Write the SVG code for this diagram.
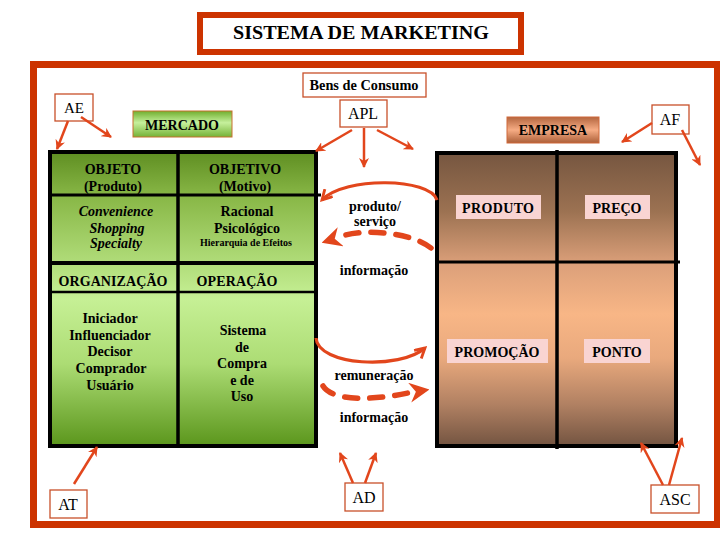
<svg xmlns="http://www.w3.org/2000/svg" width="720" height="540" viewBox="0 0 720 540">
<style>
text{font-family:"Liberation Serif","Times New Roman",serif;fill:#000;text-anchor:middle}
.b{font-weight:bold;font-size:14px}
.lab{font-size:16px}
.box{fill:#fff;stroke:#C8502A;stroke-width:1.3}
.pink{fill:#F9D4D2}
.arr{stroke:#E2461C;stroke-width:2.5;fill:none}
.arc{stroke:#E2461C;stroke-width:3.2;fill:none}
.dash{stroke:#E2461C;stroke-width:5.5;fill:none;stroke-dasharray:13 12;stroke-linecap:round}
.grid{fill:none;stroke:#000;stroke-width:4}
.ln{stroke:#000;stroke-width:3}
</style>
<defs>
<linearGradient id="gGreen" x1="0" y1="0" x2="0" y2="1">
<stop offset="0" stop-color="#5F8E22"/>
<stop offset="0.15" stop-color="#88B746"/>
<stop offset="0.5" stop-color="#C6F095"/>
<stop offset="0.72" stop-color="#ACDC74"/>
<stop offset="1" stop-color="#5B961C"/>
</linearGradient>
<linearGradient id="gBrown" x1="0" y1="0" x2="0" y2="1">
<stop offset="0" stop-color="#765640"/>
<stop offset="0.2" stop-color="#9C7252"/>
<stop offset="0.38" stop-color="#DCA07A"/>
<stop offset="0.55" stop-color="#F8B686"/>
<stop offset="0.7" stop-color="#E9A97D"/>
<stop offset="0.86" stop-color="#B08062"/>
<stop offset="1" stop-color="#735441"/>
</linearGradient>
<linearGradient id="gMerc" x1="0" y1="0" x2="0" y2="1">
<stop offset="0" stop-color="#6FAE2E"/>
<stop offset="0.45" stop-color="#C6F09C"/>
<stop offset="1" stop-color="#74B236"/>
</linearGradient>
<linearGradient id="gEmp" x1="0" y1="0" x2="0" y2="1">
<stop offset="0" stop-color="#B4663F"/>
<stop offset="0.5" stop-color="#F6AC84"/>
<stop offset="1" stop-color="#AC5F38"/>
</linearGradient>
<marker id="ah" viewBox="0 0 10 10" refX="9" refY="5" markerWidth="10" markerHeight="10" markerUnits="userSpaceOnUse" orient="auto">
<path d="M0,0 L10,5 L0,10 L3,5 z" fill="#E2461C"/>
</marker>
<marker id="chev" viewBox="0 0 12 12" refX="10" refY="6" markerWidth="13" markerHeight="13" markerUnits="userSpaceOnUse" orient="auto">
<path d="M1,1 L10,6 L1,11" fill="none" stroke="#E2461C" stroke-width="2.6"/>
</marker>
<marker id="big" viewBox="0 0 16 16" refX="14" refY="8" markerWidth="20" markerHeight="20" markerUnits="userSpaceOnUse" orient="auto">
<path d="M0,0 L16,8 L0,16 L5,8 z" fill="#E2461C"/>
</marker>
</defs>

<rect width="720" height="540" fill="#fff"/>

<g id="title">
<rect x="200" y="15" width="321" height="37" fill="#fff" stroke="#CC3300" stroke-width="6"/>
<text x="361" y="39" style="font-size:19.5px;font-weight:bold" textLength="256" lengthAdjust="spacingAndGlyphs">SISTEMA DE MARKETING</text>
</g>

<g id="frame">
<rect x="33.5" y="64.5" width="684" height="460" fill="none" stroke="#CC3300" stroke-width="7"/>
</g>

<g id="bens">
<rect class="box" x="303" y="73" width="123" height="24"/>
<text x="364" y="90" style="font-size:14px;font-weight:bold" textLength="109" lengthAdjust="spacingAndGlyphs">Bens de Consumo</text>
</g>

<g id="apl">
<rect class="box" x="340" y="100" width="47" height="27"/>
<text class="lab" x="363" y="119">APL</text>
</g>

<g id="ae">
<rect class="box" x="55" y="94" width="38" height="27"/>
<text x="74" y="113" style="font-size:15px">AE</text>
</g>

<g id="af">
<rect class="box" x="652" y="105" width="37" height="29"/>
<text class="lab" x="670" y="125">AF</text>
</g>

<g id="at">
<rect class="box" x="50" y="490" width="37" height="28"/>
<text class="lab" x="68" y="510">AT</text>
</g>

<g id="ad">
<rect class="box" x="345" y="483" width="38" height="28"/>
<text class="lab" x="364" y="503">AD</text>
</g>

<g id="asc">
<rect class="box" x="651" y="485" width="48" height="28"/>
<text class="lab" x="675" y="505">ASC</text>
</g>

<g id="mercado">
<rect x="133" y="111" width="99" height="26" fill="url(#gMerc)" stroke="#C8702E" stroke-width="1"/>
<text class="b" x="182" y="130">MERCADO</text>
</g>

<g id="empresa">
<rect x="507" y="117" width="92" height="26" fill="url(#gEmp)" stroke="#D0683A" stroke-width="1"/>
<text class="b" x="553" y="135">EMPRESA</text>
</g>

<g id="mercado-grid">
<rect x="50" y="152" width="266" height="294" fill="url(#gGreen)"/>
<line class="ln" x1="50" y1="195" x2="321" y2="195"/>
<line x1="50" y1="263" x2="316" y2="263" stroke="#000" stroke-width="4"/>
<line x1="50" y1="292" x2="316" y2="292" stroke="#000" stroke-width="2.5"/>
<line x1="178" y1="152" x2="178" y2="446" stroke="#000" stroke-width="3.5"/>
<rect class="grid" x="50" y="152" width="266" height="294"/>
<text class="b" x="113" y="174">OBJETO</text>
<text class="b" x="113" y="191">(Produto)</text>
<text class="b" x="245" y="174">OBJETIVO</text>
<text class="b" x="245" y="191">(Motivo)</text>
<text class="b" x="116" y="216" font-style="italic">Convenience</text>
<text class="b" x="117" y="233" font-style="italic">Shopping</text>
<text class="b" x="116" y="248" font-style="italic">Specialty</text>
<text class="b" x="247" y="216">Racional</text>
<text class="b" x="247" y="233">Psicológico</text>
<text x="246" y="246" style="font-size:10px;font-weight:bold">Hierarquia de Efeitos</text>
<text class="b" x="113" y="286" textLength="109" lengthAdjust="spacing">ORGANIZAÇÃO</text>
<text class="b" x="237" y="286" textLength="81" lengthAdjust="spacing">OPERAÇÃO</text>
<text class="b" x="110" y="323">Iniciador</text>
<text class="b" x="110" y="340">Influenciador</text>
<text class="b" x="110" y="356">Decisor</text>
<text class="b" x="111" y="373">Comprador</text>
<text class="b" x="110" y="390">Usuário</text>
<text class="b" x="243" y="335">Sistema</text>
<text class="b" x="242" y="352">de</text>
<text class="b" x="242" y="368">Compra</text>
<text class="b" x="242" y="385">e de</text>
<text class="b" x="242" y="401">Uso</text>
</g>

<g id="empresa-grid">
<rect x="437" y="153" width="239" height="293" fill="url(#gBrown)"/>
<line class="ln" x1="437" y1="262" x2="680" y2="262"/>
<line x1="557" y1="150" x2="557" y2="449" stroke="#000" stroke-width="3.5"/>
<rect class="grid" x="437" y="153" width="239" height="293"/>
<rect class="pink" x="456" y="195" width="85" height="24"/>
<text class="b" x="498" y="213" textLength="72" lengthAdjust="spacing">PRODUTO</text>
<rect class="pink" x="585" y="195" width="65" height="24"/>
<text class="b" x="617" y="213">PREÇO</text>
<rect class="pink" x="447" y="339" width="101" height="24"/>
<text class="b" x="497" y="357">PROMOÇÃO</text>
<rect class="pink" x="584" y="339" width="66" height="24"/>
<text class="b" x="617" y="357">PONTO</text>
</g>

<g id="flow-labels">
<text class="b" x="375" y="211">produto/</text>
<text class="b" x="375" y="226">serviço</text>
<text class="b" x="374" y="275">informação</text>
<text class="b" x="374" y="380">remuneração</text>
<text class="b" x="374" y="422">informação</text>
</g>

<g id="connectors">
<line class="arr" x1="68" y1="121" x2="57" y2="149" marker-end="url(#ah)"/>
<line class="arr" x1="81" y1="117" x2="111" y2="137" marker-end="url(#ah)"/>
<line class="arr" x1="352" y1="130" x2="316" y2="151" marker-end="url(#ah)"/>
<line class="arr" x1="364" y1="128" x2="364" y2="167" marker-end="url(#ah)"/>
<line class="arr" x1="377" y1="130" x2="413" y2="149" marker-end="url(#ah)"/>
<line class="arr" x1="652" y1="123" x2="622" y2="142" marker-end="url(#ah)"/>
<line class="arr" x1="682" y1="130" x2="700" y2="165" marker-end="url(#ah)"/>
<line class="arr" x1="74" y1="484" x2="97" y2="447" marker-end="url(#ah)"/>
<line class="arr" x1="353" y1="483" x2="340" y2="453" marker-end="url(#ah)"/>
<line class="arr" x1="365" y1="483" x2="376" y2="453" marker-end="url(#ah)"/>
<line class="arr" x1="663" y1="485" x2="641" y2="443" marker-end="url(#ah)"/>
<line class="arr" x1="669" y1="485" x2="682" y2="438" marker-end="url(#ah)"/>
<path class="arc" d="M437,200 C430,178 345,176 322,200" marker-end="url(#chev)"/>
<path class="dash" d="M431,248 C412,232 360,228 340,237"/>
<path d="M340,237 L324,242" stroke="none" fill="none" marker-end="url(#big)"/>
<path class="arc" d="M316,338 C318,366 400,370 425,348" marker-end="url(#chev)"/>
<path class="dash" d="M323,386 C333,402 375,400 408,393"/>
<path d="M408,393 L427,390" stroke="none" fill="none" marker-end="url(#big)"/>
</g>
</svg>
